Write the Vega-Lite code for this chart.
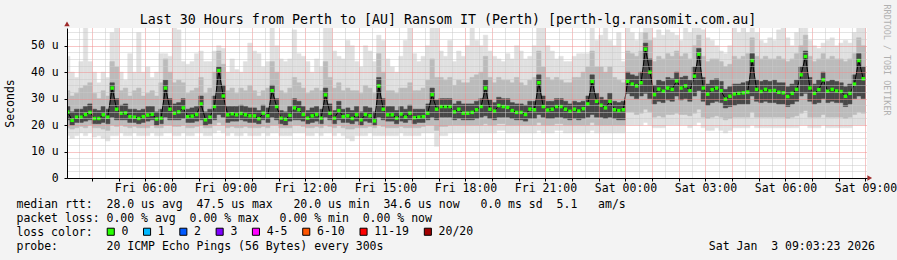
{
"$schema":"https://vega.github.io/schema/vega-lite/v6.json",
"width":800,"height":150,"autosize":"none",
"padding":{"left":67,"top":28,"right":30,"bottom":82},
"background":"#f3f3f3",
"view":{"fill":"#ffffff","stroke":null},
"config":{"axis":{"labelOverlap":false}},
"title":{"text":"Last 30 Hours from Perth to [AU] Ransom IT (Perth) [perth-lg.ransomit.com.au]","font":"DejaVu Sans Mono","fontSize":13.3,"fontWeight":"normal","color":"#000000","anchor":"middle","frame":"group","dx":-19,"baseline":"alphabetic","offset":-32.7},
"data":{"values":[
{"t":"2026-01-02T03:05","m":24.9,"n":16,"a":19,"c":22,"d":27,"b":33,"x":46,"l":"0"},
{"t":"2026-01-02T03:15","m":21.8,"n":15,"a":18.5,"c":20,"d":25,"b":31,"x":40,"l":"0"},
{"t":"2026-01-02T03:25","m":23,"n":16,"a":19,"c":21,"d":26,"b":32,"x":38,"l":"0"},
{"t":"2026-01-02T03:35","m":23,"n":17,"a":19.5,"c":21,"d":26,"b":34,"x":44,"l":"0"},
{"t":"2026-01-02T03:45","m":24,"n":16,"a":19,"c":21.5,"d":27,"b":35,"x":57,"l":"0"},
{"t":"2026-01-02T03:55","m":24.8,"n":17,"a":20,"c":22,"d":28,"b":36,"x":44,"l":"0"},
{"t":"2026-01-02T04:05","m":22.5,"n":15.5,"a":19,"c":20.5,"d":26,"b":32,"x":40,"l":"0"},
{"t":"2026-01-02T04:15","m":22.5,"n":16,"a":19,"c":20.5,"d":25.5,"b":30,"x":36,"l":"0"},
{"t":"2026-01-02T04:25","m":23.9,"n":15,"a":18.5,"c":21,"d":27,"b":33,"x":40,"l":"0"},
{"t":"2026-01-02T04:35","m":23,"n":14,"a":18,"c":20.5,"d":26,"b":31,"x":38,"l":"0"},
{"t":"2026-01-02T04:45","m":34,"n":16,"a":20,"c":23,"d":36,"b":44,"x":55,"l":"0"},
{"t":"2026-01-02T04:55","m":26,"n":16,"a":19.5,"c":22,"d":30,"b":42,"x":57,"l":"0"},
{"t":"2026-01-02T05:05","m":24.5,"n":17,"a":20,"c":22,"d":27.5,"b":33,"x":40,"l":"0"},
{"t":"2026-01-02T05:15","m":24.6,"n":16,"a":19.5,"c":22,"d":28,"b":34,"x":37,"l":"0"},
{"t":"2026-01-02T05:25","m":23.2,"n":16,"a":19,"c":21,"d":26,"b":31,"x":47,"l":"0"},
{"t":"2026-01-02T05:35","m":23,"n":17,"a":19.5,"c":21,"d":26,"b":33,"x":40,"l":"0"},
{"t":"2026-01-02T05:45","m":22.5,"n":16,"a":19,"c":20.5,"d":25.5,"b":34,"x":55,"l":"0"},
{"t":"2026-01-02T05:55","m":23.2,"n":16,"a":19,"c":21,"d":26,"b":31,"x":40,"l":"0"},
{"t":"2026-01-02T06:05","m":23.8,"n":16,"a":19,"c":21.5,"d":27,"b":32,"x":42,"l":"0"},
{"t":"2026-01-02T06:15","m":24.1,"n":17,"a":20,"c":22,"d":27,"b":33,"x":38,"l":"0"},
{"t":"2026-01-02T06:25","m":22.3,"n":16,"a":19,"c":20,"d":25,"b":31,"x":40,"l":"0"},
{"t":"2026-01-02T06:35","m":22.6,"n":16,"a":19,"c":20.5,"d":26,"b":36,"x":47,"l":"0"},
{"t":"2026-01-02T06:45","m":34,"n":17,"a":20,"c":23,"d":37,"b":45,"x":47,"l":"0"},
{"t":"2026-01-02T06:55","m":26,"n":17,"a":20,"c":22,"d":30,"b":40,"x":46,"l":"0"},
{"t":"2026-01-02T07:05","m":24.5,"n":16,"a":19.5,"c":22,"d":28,"b":36,"x":57,"l":"0"},
{"t":"2026-01-02T07:15","m":25,"n":16,"a":19.5,"c":22,"d":28.5,"b":37,"x":56,"l":"0"},
{"t":"2026-01-02T07:25","m":26.5,"n":17,"a":20,"c":22.5,"d":30,"b":36,"x":44,"l":"0"},
{"t":"2026-01-02T07:35","m":23.2,"n":16,"a":19,"c":21,"d":26,"b":32,"x":43,"l":"0"},
{"t":"2026-01-02T07:45","m":23.4,"n":16,"a":19,"c":21,"d":26.5,"b":33,"x":44,"l":"0"},
{"t":"2026-01-02T07:55","m":24,"n":17,"a":19.5,"c":21.5,"d":27,"b":34,"x":47,"l":"0"},
{"t":"2026-01-02T08:05","m":28,"n":17,"a":20,"c":22,"d":31,"b":38,"x":48,"l":"0"},
{"t":"2026-01-02T08:15","m":22,"n":16,"a":19,"c":20,"d":25,"b":32,"x":44,"l":"0"},
{"t":"2026-01-02T08:25","m":23,"n":16,"a":19,"c":20.5,"d":26,"b":34,"x":44,"l":"0"},
{"t":"2026-01-02T08:35","m":27,"n":17,"a":20,"c":22,"d":31,"b":40,"x":48,"l":"0"},
{"t":"2026-01-02T08:45","m":40.6,"n":18,"a":21,"c":24,"d":42,"b":48,"x":50,"l":"0"},
{"t":"2026-01-02T08:55","m":31,"n":17,"a":20,"c":23,"d":35,"b":43,"x":49,"l":"0"},
{"t":"2026-01-02T09:05","m":23.9,"n":16,"a":19,"c":21,"d":27,"b":33,"x":40,"l":"0"},
{"t":"2026-01-02T09:15","m":24.3,"n":17,"a":19.5,"c":21.5,"d":27,"b":34,"x":45,"l":"0"},
{"t":"2026-01-02T09:25","m":23.9,"n":16,"a":19,"c":21.5,"d":27,"b":32,"x":41,"l":"0"},
{"t":"2026-01-02T09:35","m":24.4,"n":16,"a":19,"c":22,"d":27.5,"b":34,"x":40,"l":"0"},
{"t":"2026-01-02T09:45","m":23.9,"n":17,"a":19.5,"c":21.5,"d":27,"b":33,"x":44,"l":"0"},
{"t":"2026-01-02T09:55","m":23.5,"n":16,"a":19,"c":21,"d":26.5,"b":35,"x":51,"l":"0"},
{"t":"2026-01-02T10:05","m":23.5,"n":16,"a":19,"c":21,"d":26.5,"b":33,"x":48,"l":"0"},
{"t":"2026-01-02T10:15","m":22.4,"n":16,"a":19,"c":20.5,"d":25.5,"b":31,"x":47,"l":"0"},
{"t":"2026-01-02T10:25","m":24.5,"n":17,"a":19.5,"c":22,"d":27.5,"b":33,"x":42,"l":"0"},
{"t":"2026-01-02T10:35","m":23.5,"n":16,"a":19,"c":21,"d":26.5,"b":34,"x":44,"l":"0"},
{"t":"2026-01-02T10:45","m":33,"n":17,"a":20,"c":23,"d":35,"b":44,"x":57,"l":"0"},
{"t":"2026-01-02T10:55","m":27,"n":17,"a":20,"c":22,"d":30,"b":40,"x":50,"l":"0"},
{"t":"2026-01-02T11:05","m":22.6,"n":16,"a":19,"c":20.5,"d":25.5,"b":33,"x":45,"l":"0"},
{"t":"2026-01-02T11:15","m":22.2,"n":16,"a":19,"c":20,"d":25,"b":32,"x":44,"l":"0"},
{"t":"2026-01-02T11:25","m":23.7,"n":16,"a":19,"c":21.5,"d":27,"b":34,"x":45,"l":"0"},
{"t":"2026-01-02T11:35","m":26.5,"n":17,"a":20,"c":22,"d":30,"b":38,"x":56,"l":"0"},
{"t":"2026-01-02T11:45","m":25.8,"n":17,"a":20,"c":22,"d":29,"b":36,"x":47,"l":"0"},
{"t":"2026-01-02T11:55","m":24,"n":17,"a":19.5,"c":21.5,"d":27,"b":34,"x":46,"l":"0"},
{"t":"2026-01-02T12:05","m":22.6,"n":16,"a":19,"c":20.5,"d":25.5,"b":32,"x":44,"l":"0"},
{"t":"2026-01-02T12:15","m":23.5,"n":16,"a":19,"c":21,"d":26.5,"b":33,"x":40,"l":"0"},
{"t":"2026-01-02T12:25","m":24,"n":17,"a":19.5,"c":21.5,"d":27,"b":34,"x":45,"l":"0"},
{"t":"2026-01-02T12:35","m":22.6,"n":16,"a":19,"c":20.5,"d":26,"b":33,"x":42,"l":"0"},
{"t":"2026-01-02T12:45","m":31.4,"n":17,"a":20,"c":23,"d":34,"b":44,"x":57,"l":"0"},
{"t":"2026-01-02T12:55","m":24.5,"n":17,"a":19.5,"c":22,"d":28,"b":38,"x":57,"l":"0"},
{"t":"2026-01-02T13:05","m":22.6,"n":16,"a":19,"c":20.5,"d":25.5,"b":34,"x":48,"l":"0"},
{"t":"2026-01-02T13:15","m":25.5,"n":17,"a":20,"c":22,"d":29,"b":36,"x":46,"l":"0"},
{"t":"2026-01-02T13:25","m":23.2,"n":16,"a":19,"c":21,"d":26,"b":33,"x":45,"l":"0"},
{"t":"2026-01-02T13:35","m":23.5,"n":15,"a":18.5,"c":21,"d":26.5,"b":34,"x":52,"l":"0"},
{"t":"2026-01-02T13:45","m":22.5,"n":14,"a":18.5,"c":20.5,"d":25.5,"b":33,"x":50,"l":"0"},
{"t":"2026-01-02T13:55","m":23.9,"n":16,"a":19,"c":21.5,"d":27,"b":33,"x":44,"l":"0"},
{"t":"2026-01-02T14:05","m":22,"n":16,"a":19,"c":20,"d":25,"b":32,"x":42,"l":"0"},
{"t":"2026-01-02T14:15","m":24,"n":16,"a":19,"c":21.5,"d":27,"b":35,"x":50,"l":"0"},
{"t":"2026-01-02T14:25","m":23.5,"n":17,"a":19.5,"c":21,"d":26.5,"b":34,"x":48,"l":"0"},
{"t":"2026-01-02T14:35","m":21.6,"n":16,"a":19,"c":20,"d":25,"b":32,"x":44,"l":"0"},
{"t":"2026-01-02T14:45","m":34.8,"n":16,"a":20,"c":23,"d":38,"b":47,"x":54,"l":"0"},
{"t":"2026-01-02T14:55","m":26,"n":16,"a":19.5,"c":22,"d":30,"b":40,"x":52,"l":"0"},
{"t":"2026-01-02T15:05","m":23.9,"n":16,"a":19,"c":21.5,"d":27,"b":33,"x":45,"l":"0"},
{"t":"2026-01-02T15:15","m":23.9,"n":16,"a":19,"c":21.5,"d":27,"b":33,"x":42,"l":"0"},
{"t":"2026-01-02T15:25","m":22.6,"n":16,"a":19,"c":20.5,"d":25.5,"b":32,"x":40,"l":"0"},
{"t":"2026-01-02T15:35","m":24.2,"n":17,"a":19.5,"c":21.5,"d":27,"b":34,"x":46,"l":"0"},
{"t":"2026-01-02T15:45","m":23,"n":16,"a":19,"c":21,"d":26,"b":34,"x":52,"l":"0"},
{"t":"2026-01-02T15:55","m":24.5,"n":16,"a":19,"c":22,"d":27.5,"b":36,"x":57,"l":"0"},
{"t":"2026-01-02T16:05","m":22.8,"n":16,"a":19,"c":20.5,"d":26,"b":33,"x":47,"l":"0"},
{"t":"2026-01-02T16:15","m":23,"n":16,"a":19,"c":21,"d":26,"b":33,"x":44,"l":"0"},
{"t":"2026-01-02T16:25","m":23.2,"n":17,"a":19.5,"c":21,"d":26,"b":34,"x":46,"l":"0"},
{"t":"2026-01-02T16:35","m":24.5,"n":17,"a":20,"c":22,"d":28,"b":37,"x":50,"l":"0"},
{"t":"2026-01-02T16:45","m":31.5,"n":17,"a":20,"c":23,"d":34,"b":45,"x":57,"l":"0"},
{"t":"2026-01-02T16:55","m":26,"n":12,"a":18,"c":22,"d":29.5,"b":38,"x":57,"l":"0"},
{"t":"2026-01-02T17:05","m":27,"n":16,"a":19.5,"c":23,"d":30,"b":38,"x":48,"l":"0"},
{"t":"2026-01-02T17:15","m":27,"n":16,"a":19.5,"c":23,"d":30,"b":37,"x":46,"l":"0"},
{"t":"2026-01-02T17:25","m":27,"n":17,"a":20,"c":23,"d":30,"b":38,"x":52,"l":"0"},
{"t":"2026-01-02T17:35","m":25,"n":17,"a":20,"c":22,"d":28,"b":35,"x":44,"l":"0"},
{"t":"2026-01-02T17:45","m":26,"n":17,"a":20,"c":22.5,"d":29,"b":37,"x":48,"l":"0"},
{"t":"2026-01-02T17:55","m":24.5,"n":17,"a":20,"c":22,"d":28,"b":36,"x":46,"l":"0"},
{"t":"2026-01-02T18:05","m":24.5,"n":17,"a":20,"c":22,"d":28,"b":36,"x":50,"l":"0"},
{"t":"2026-01-02T18:15","m":24.8,"n":17,"a":20,"c":22,"d":28,"b":38,"x":57,"l":"0"},
{"t":"2026-01-02T18:25","m":25.8,"n":17,"a":20,"c":22.5,"d":29,"b":39,"x":52,"l":"0"},
{"t":"2026-01-02T18:35","m":27,"n":17,"a":20,"c":23,"d":30,"b":40,"x":50,"l":"0"},
{"t":"2026-01-02T18:45","m":34,"n":17,"a":20.5,"c":23.5,"d":37,"b":46,"x":54,"l":"0"},
{"t":"2026-01-02T18:55","m":26,"n":17,"a":20,"c":22.5,"d":29.5,"b":38,"x":48,"l":"0"},
{"t":"2026-01-02T19:05","m":25.3,"n":17,"a":20,"c":22,"d":28.5,"b":36,"x":46,"l":"0"},
{"t":"2026-01-02T19:15","m":27.4,"n":18,"a":20.5,"c":23,"d":30.5,"b":38,"x":45,"l":"0"},
{"t":"2026-01-02T19:25","m":27,"n":18,"a":20.5,"c":23,"d":30,"b":37,"x":44,"l":"0"},
{"t":"2026-01-02T19:35","m":26.7,"n":17,"a":20,"c":23,"d":30,"b":37,"x":47,"l":"0"},
{"t":"2026-01-02T19:45","m":25.5,"n":17,"a":20,"c":22.5,"d":28.5,"b":36,"x":45,"l":"0"},
{"t":"2026-01-02T19:55","m":24.8,"n":17,"a":20,"c":22,"d":28,"b":38,"x":50,"l":"0"},
{"t":"2026-01-02T20:05","m":24.8,"n":17,"a":20,"c":22,"d":28,"b":36,"x":48,"l":"0"},
{"t":"2026-01-02T20:15","m":24,"n":17,"a":20,"c":21.5,"d":27.5,"b":35,"x":45,"l":"0"},
{"t":"2026-01-02T20:25","m":26,"n":17,"a":20,"c":22.5,"d":29,"b":37,"x":46,"l":"0"},
{"t":"2026-01-02T20:35","m":25.8,"n":17,"a":20,"c":22.5,"d":29,"b":38,"x":50,"l":"0"},
{"t":"2026-01-02T20:45","m":36,"n":18,"a":21,"c":24,"d":39,"b":48,"x":57,"l":"0"},
{"t":"2026-01-02T20:55","m":27,"n":17,"a":20,"c":23,"d":31,"b":42,"x":57,"l":"0"},
{"t":"2026-01-02T21:05","m":25.7,"n":17,"a":20,"c":22.5,"d":29,"b":38,"x":50,"l":"0"},
{"t":"2026-01-02T21:15","m":26,"n":17,"a":20,"c":22.5,"d":29,"b":37,"x":48,"l":"0"},
{"t":"2026-01-02T21:25","m":27,"n":18,"a":20.5,"c":23,"d":30,"b":38,"x":45,"l":"0"},
{"t":"2026-01-02T21:35","m":27,"n":18,"a":20.5,"c":23,"d":30,"b":37,"x":46,"l":"0"},
{"t":"2026-01-02T21:45","m":26,"n":17,"a":20,"c":22.5,"d":29,"b":36,"x":44,"l":"0"},
{"t":"2026-01-02T21:55","m":25.2,"n":17,"a":20,"c":22,"d":28,"b":36,"x":44,"l":"0"},
{"t":"2026-01-02T22:05","m":26,"n":17,"a":20,"c":22.5,"d":29,"b":38,"x":46,"l":"0"},
{"t":"2026-01-02T22:15","m":25.3,"n":17,"a":20,"c":22,"d":28.5,"b":38,"x":47,"l":"0"},
{"t":"2026-01-02T22:25","m":26.2,"n":17,"a":20,"c":22.5,"d":29,"b":40,"x":47,"l":"0"},
{"t":"2026-01-02T22:35","m":28,"n":17,"a":20,"c":23,"d":31,"b":42,"x":47,"l":"0"},
{"t":"2026-01-02T22:45","m":36.5,"n":18,"a":21,"c":24,"d":39,"b":48,"x":57,"l":"0"},
{"t":"2026-01-02T22:55","m":29,"n":17,"a":20,"c":23,"d":32,"b":42,"x":52,"l":"0"},
{"t":"2026-01-02T23:05","m":27.5,"n":17,"a":20,"c":23,"d":30.5,"b":42,"x":54,"l":"0"},
{"t":"2026-01-02T23:15","m":26.5,"n":17,"a":20,"c":22.5,"d":29.5,"b":40,"x":57,"l":"0"},
{"t":"2026-01-02T23:25","m":29,"n":17,"a":20,"c":23,"d":32,"b":42,"x":52,"l":"0"},
{"t":"2026-01-02T23:35","m":25.8,"n":17,"a":20,"c":22.5,"d":29,"b":38,"x":50,"l":"0"},
{"t":"2026-01-02T23:45","m":25.5,"n":17,"a":20,"c":22,"d":28.5,"b":37,"x":55,"l":"0"},
{"t":"2026-01-02T23:55","m":25.8,"n":17,"a":20,"c":22,"d":29,"b":36,"x":44,"l":"0"},
{"t":"2026-01-03T00:05","m":36.5,"n":20,"a":25,"c":32,"d":40,"b":48,"x":57,"l":"0"},
{"t":"2026-01-03T00:15","m":35.5,"n":20,"a":25,"c":31,"d":39,"b":47,"x":55,"l":"0"},
{"t":"2026-01-03T00:25","m":34.8,"n":20,"a":24,"c":30,"d":38.5,"b":46,"x":52,"l":"0"},
{"t":"2026-01-03T00:35","m":36,"n":20,"a":24.5,"c":31,"d":40,"b":48,"x":55,"l":"0"},
{"t":"2026-01-03T00:45","m":48.7,"n":21,"a":26,"c":32,"d":51,"b":55,"x":57,"l":"0"},
{"t":"2026-01-03T00:55","m":40,"n":20,"a":25,"c":30,"d":45,"b":52,"x":57,"l":"0"},
{"t":"2026-01-03T01:05","m":31.5,"n":19,"a":23,"c":28,"d":35,"b":44,"x":53,"l":"0"},
{"t":"2026-01-03T01:15","m":33.6,"n":19,"a":23.5,"c":29,"d":37,"b":46,"x":56,"l":"0"},
{"t":"2026-01-03T01:25","m":32.8,"n":19,"a":23,"c":28.5,"d":36.5,"b":45,"x":54,"l":"0"},
{"t":"2026-01-03T01:35","m":34,"n":20,"a":24,"c":29.5,"d":38,"b":47,"x":56,"l":"0"},
{"t":"2026-01-03T01:45","m":33.5,"n":20,"a":24,"c":29,"d":37.5,"b":46,"x":55,"l":"0"},
{"t":"2026-01-03T01:55","m":36.7,"n":20,"a":24.5,"c":31,"d":40,"b":48,"x":54,"l":"0"},
{"t":"2026-01-03T02:05","m":34,"n":20,"a":24,"c":29.5,"d":38,"b":46,"x":52,"l":"0"},
{"t":"2026-01-03T02:15","m":34.8,"n":20,"a":24,"c":30,"d":38.5,"b":47,"x":57,"l":"0"},
{"t":"2026-01-03T02:25","m":33,"n":19,"a":23.5,"c":29,"d":37,"b":45,"x":55,"l":"0"},
{"t":"2026-01-03T02:35","m":38.5,"n":20,"a":24.5,"c":31,"d":42,"b":50,"x":57,"l":"0"},
{"t":"2026-01-03T02:45","m":46.8,"n":21,"a":26,"c":33,"d":49,"b":54,"x":57,"l":"0"},
{"t":"2026-01-03T02:55","m":34,"n":19,"a":23,"c":29,"d":38,"b":46,"x":56,"l":"0"},
{"t":"2026-01-03T03:05","m":31.7,"n":18,"a":22.5,"c":27.5,"d":35.5,"b":44,"x":53,"l":"0"},
{"t":"2026-01-03T03:15","m":33.4,"n":18,"a":23,"c":28.5,"d":37,"b":45,"x":52,"l":"0"},
{"t":"2026-01-03T03:25","m":34,"n":19,"a":23.5,"c":29,"d":37.5,"b":45,"x":50,"l":"0"},
{"t":"2026-01-03T03:35","m":33,"n":18,"a":23,"c":28.5,"d":36.5,"b":44,"x":48,"l":"0"},
{"t":"2026-01-03T03:45","m":29.8,"n":17,"a":22,"c":26.5,"d":33.5,"b":42,"x":47,"l":"0"},
{"t":"2026-01-03T03:55","m":30.9,"n":18,"a":22.5,"c":27,"d":34.5,"b":43,"x":50,"l":"0"},
{"t":"2026-01-03T04:05","m":31.8,"n":19,"a":23,"c":27.5,"d":35.5,"b":46,"x":57,"l":"0"},
{"t":"2026-01-03T04:15","m":32,"n":19,"a":23,"c":28,"d":35.5,"b":45,"x":55,"l":"0"},
{"t":"2026-01-03T04:25","m":32.2,"n":19,"a":23,"c":28,"d":36,"b":46,"x":57,"l":"0"},
{"t":"2026-01-03T04:35","m":32.5,"n":19,"a":23,"c":28,"d":36.5,"b":47,"x":55,"l":"0"},
{"t":"2026-01-03T04:45","m":44.4,"n":20,"a":25,"c":31,"d":47,"b":53,"x":57,"l":"0"},
{"t":"2026-01-03T04:55","m":33.5,"n":19,"a":23,"c":29,"d":37,"b":46,"x":55,"l":"0"},
{"t":"2026-01-03T05:05","m":32.7,"n":19,"a":23,"c":28.5,"d":36.5,"b":45,"x":52,"l":"0"},
{"t":"2026-01-03T05:15","m":33.5,"n":19,"a":23,"c":29,"d":37,"b":46,"x":51,"l":"0"},
{"t":"2026-01-03T05:25","m":32.9,"n":19,"a":23,"c":28.5,"d":36.5,"b":45,"x":53,"l":"0"},
{"t":"2026-01-03T05:35","m":33.1,"n":19,"a":23,"c":28.5,"d":37,"b":45,"x":52,"l":"0"},
{"t":"2026-01-03T05:45","m":32.4,"n":19,"a":23,"c":28,"d":36,"b":46,"x":56,"l":"0"},
{"t":"2026-01-03T05:55","m":32.2,"n":19,"a":23,"c":28,"d":36,"b":45,"x":57,"l":"0"},
{"t":"2026-01-03T06:05","m":30.8,"n":19,"a":22.5,"c":27,"d":34.5,"b":44,"x":53,"l":"0"},
{"t":"2026-01-03T06:15","m":32,"n":19,"a":23,"c":28,"d":35.5,"b":45,"x":50,"l":"0"},
{"t":"2026-01-03T06:25","m":33.5,"n":19,"a":23.5,"c":29,"d":37,"b":47,"x":55,"l":"0"},
{"t":"2026-01-03T06:35","m":39,"n":20,"a":24.5,"c":31,"d":42,"b":50,"x":57,"l":"0"},
{"t":"2026-01-03T06:45","m":45.9,"n":20,"a":25.5,"c":32,"d":48,"b":54,"x":57,"l":"0"},
{"t":"2026-01-03T06:55","m":34,"n":19,"a":23,"c":29,"d":38,"b":46,"x":52,"l":"0"},
{"t":"2026-01-03T07:05","m":32,"n":19,"a":23,"c":28,"d":35.5,"b":44,"x":50,"l":"0"},
{"t":"2026-01-03T07:15","m":33.4,"n":19,"a":23,"c":28.5,"d":37,"b":45,"x":49,"l":"0"},
{"t":"2026-01-03T07:25","m":37.1,"n":20,"a":24,"c":30,"d":40,"b":47,"x":51,"l":"0"},
{"t":"2026-01-03T07:35","m":32.8,"n":19,"a":23,"c":28.5,"d":36.5,"b":45,"x":52,"l":"0"},
{"t":"2026-01-03T07:45","m":33.5,"n":19,"a":23,"c":29,"d":37,"b":46,"x":53,"l":"0"},
{"t":"2026-01-03T07:55","m":32.9,"n":19,"a":23,"c":28.5,"d":36.5,"b":45,"x":50,"l":"0"},
{"t":"2026-01-03T08:05","m":32.7,"n":19,"a":23,"c":28.5,"d":36,"b":45,"x":51,"l":"0"},
{"t":"2026-01-03T08:15","m":30.9,"n":19,"a":22.5,"c":27,"d":34.5,"b":44,"x":52,"l":"0"},
{"t":"2026-01-03T08:25","m":32,"n":19,"a":23,"c":28,"d":35.5,"b":45,"x":51,"l":"0"},
{"t":"2026-01-03T08:35","m":35.5,"n":20,"a":24,"c":30,"d":39,"b":47,"x":55,"l":"0"},
{"t":"2026-01-03T08:45","m":44.4,"n":20,"a":25,"c":31,"d":47,"b":53,"x":57,"l":"0"},
{"t":"2026-01-03T08:55","m":37.5,"n":20,"a":24.5,"c":30,"d":42,"b":50,"x":57,"l":"0"}
]},
"layer":[
{"mark":{"type":"bar","width":4.45,"color":"#e0e0e0","stroke":"#e0e0e0","strokeWidth":0.5,"clip":true},
 "encoding":{
  "x":{"field":"t","type":"temporal",
   "scale":{"domain":[{"year":2026,"month":1,"date":2,"hours":3,"minutes":3,"seconds":23},{"year":2026,"month":1,"date":3,"hours":9,"minutes":3,"seconds":23}],"nice":false,"padding":0},
   "axis":{"orient":"bottom","zindex":1,"tickCount":60,"format":"%a %H:%M",
    "labelExpr":"(hours(datum.value) % 3 == 0 && minutes(datum.value) == 0) ? datum.label : ''",
    "labelFont":"DejaVu Sans Mono","labelFontSize":11.5,"labelColor":"#000000","labelPadding":10,"labelBaseline":"alphabetic","labelFlush":false,"labelOverlap":false,
    "grid":true,"gridDash":[1,1],"gridWidth":1,
    "gridColor":{"condition":{"test":"minutes(datum.value) == 0","value":"#f08c8c"},"value":"#c8c8c8"},
    "tickOpacity":{"condition":{"test":"minutes(datum.value) == 0","value":1},"value":0},
    "domainColor":"#000000","tickColor":"#000000","tickSize":3,
    "title":["median rtt:\u00a0\u00a028.0 us avg\u00a0\u00a047.5 us max\u00a0\u00a0\u00a020.0 us min\u00a0\u00a034.6 us now\u00a0\u00a0\u00a00.0 ms sd\u00a0\u00a05.1\u00a0\u00a0\u00a0am/s","packet loss:\u00a00.00 % avg\u00a0\u00a00.00 % max\u00a0\u00a0\u00a00.00 % min\u00a0\u00a00.00 % now","loss color:","probe:\u00a0\u00a0\u00a0\u00a0\u00a0\u00a0\u00a020 ICMP Echo Pings (56 Bytes) every 300s\u00a0\u00a0\u00a0\u00a0\u00a0\u00a0\u00a0\u00a0\u00a0\u00a0\u00a0\u00a0\u00a0\u00a0\u00a0\u00a0\u00a0\u00a0\u00a0\u00a0\u00a0\u00a0\u00a0\u00a0\u00a0\u00a0\u00a0\u00a0\u00a0\u00a0\u00a0\u00a0\u00a0\u00a0\u00a0\u00a0\u00a0\u00a0\u00a0\u00a0\u00a0\u00a0\u00a0\u00a0\u00a0\u00a0\u00a0Sat Jan\u00a0\u00a03 09:03:23 2026"],
    "titleFont":"DejaVu Sans Mono","titleFontSize":11.5,"titleFontWeight":"normal","titleColor":"#000000","titleX":-51,"titleY":29.7,"titleAlign":"left","titleBaseline":"alphabetic","titleLineHeight":13.9}},
  "y":{"field":"n","type":"quantitative","scale":{"domain":[0,56.7],"nice":false,"zero":false},
   "axis":{"orient":"left","zindex":1,"tickCount":30,"values":[0,2.5,5,7.5,10,12.5,15,17.5,20,22.5,25,27.5,30,32.5,35,37.5,40,42.5,45,47.5,50,52.5,55],
    "labelExpr":"datum.value % 10 == 0 ? (datum.value == 0 ? '0' : datum.value + ' u') : ''",
    "labelFont":"DejaVu Sans Mono","labelFontSize":11.5,"labelColor":"#000000","labelPadding":5.7,"labelBaseline":"middle","labelOverlap":false,"labelFlush":false,"tickSize":3,
    "grid":true,"gridDash":[1,1],
    "gridColor":{"condition":{"test":"datum.value % 10 == 0","value":"#f08c8c"},"value":"#c8c8c8"},
    "tickOpacity":{"condition":{"test":"datum.value % 10 == 0","value":1},"value":0},
    "domainColor":"#000000","tickColor":"#000000",
    "title":"Seconds","titleFont":"DejaVu Sans Mono","titleFontSize":11.5,"titleFontWeight":"normal","titleColor":"#000000","titleX":-57,"titleY":75,"titleAngle":-90,"titleAlign":"center","titleBaseline":"middle"}},
  "y2":{"field":"x"}}},
{"mark":{"type":"bar","width":4.45,"color":"#bbbbbb","stroke":"#bbbbbb","strokeWidth":0.5,"clip":true},
 "encoding":{
  "x":{"field":"t","type":"temporal"},
  "y":{"field":"a","type":"quantitative"},
  "y2":{"field":"b"}}},
{"mark":{"type":"bar","width":4.45,"color":"#484848","stroke":"#484848","strokeWidth":0.5,"clip":true},
 "encoding":{
  "x":{"field":"t","type":"temporal"},
  "y":{"field":"c","type":"quantitative"},
  "y2":{"field":"d"}}},
{"mark":{"type":"line","color":"#000000","strokeWidth":1,"clip":true},
 "encoding":{
  "x":{"field":"t","type":"temporal"},
  "y":{"field":"m","type":"quantitative"}}},
{"mark":{"type":"point","shape":"square","filled":true,"size":12,"opacity":1,"clip":true},
 "encoding":{
  "x":{"field":"t","type":"temporal"},
  "y":{"field":"m","type":"quantitative"},
  "color":{"field":"l","type":"nominal",
   "scale":{"domain":["0","1","2","3","4-5","6-10","11-19","20/20"],"range":["#26ff00","#00b8ff","#0059ff","#7e00ff","#ff00ff","#ff5500","#ff0000","#a10000"]},
   "legend":{"orient":"none","legendX":38,"legendY":198,"direction":"horizontal","columns":8,"columnPadding":12.3,"gridAlign":"none",
    "title":null,
    "symbolType":"square","symbolSize":50,"symbolStrokeColor":"#000000","symbolStrokeWidth":1,"symbolOpacity":1,
    "labelFont":"DejaVu Sans Mono","labelFontSize":11.5,"labelColor":"#000000","labelOffset":5,"labelLimit":0}}}},
{"data":{"values":[{"k":"x-arrow"}]},
 "mark":{"type":"point","shape":"triangle-right","filled":true,"size":30,"color":"#9e2a2a","opacity":1,"clip":false},
 "encoding":{"x":{"datum":{"year":2026,"month":1,"date":3,"hours":9,"minutes":9,"seconds":30},"type":"temporal"},"y":{"datum":0,"type":"quantitative"}}},
{"data":{"values":[{"k":"y-arrow"}]},
 "mark":{"type":"point","shape":"triangle-up","filled":true,"size":30,"color":"#9e2a2a","opacity":1,"clip":false},
 "encoding":{"x":{"datum":{"year":2026,"month":1,"date":2,"hours":3,"minutes":3,"seconds":23},"type":"temporal"},"y":{"datum":58.3,"type":"quantitative"}}},
{"data":{"values":[{"s":"RRDTOOL / TOBI OETIKER"}]},
 "mark":{"type":"text","angle":90,"align":"center","baseline":"middle","font":"DejaVu Sans Mono","fontSize":8.4,"color":"#b0b0b0","clip":false},
 "encoding":{"text":{"field":"s"},"x":{"datum":{"year":2026,"month":1,"date":3,"hours":9,"minutes":48,"seconds":23},"type":"temporal"},"y":{"datum":44.6,"type":"quantitative"}}}
]
}
